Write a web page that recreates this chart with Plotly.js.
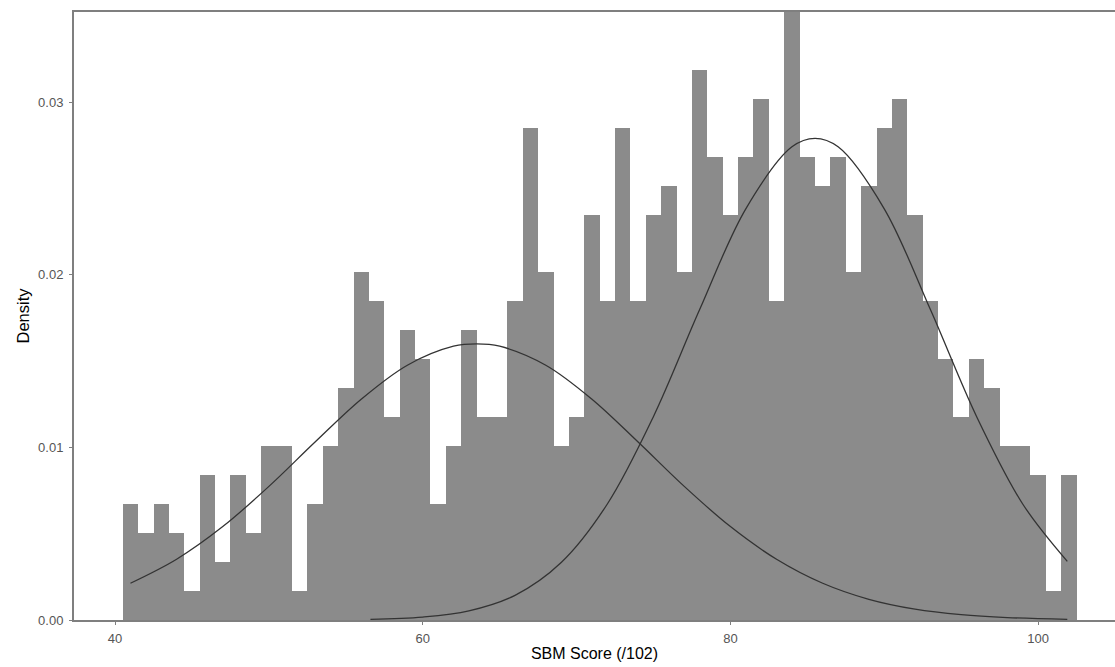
<!DOCTYPE html>
<html>
<head>
<meta charset="utf-8">
<script src="https://cdn.plot.ly/plotly-3.0.1.min.js"></script>
<style>html,body{margin:0;padding:0;background:#fff;}#chart{width:1115px;height:667px;}</style>
</head>
<body>
<div id="chart"></div>
<script>
// Histogram bins (centre of each 1-point bin) and counts
const binCenters = [41,42,43,44,45,46,47,48,49,50,51,52,53,54,55,56,57,58,59,60,61,62,63,64,65,66,67,68,69,70,71,72,73,74,75,76,77,78,79,80,81,82,83,84,85,86,87,88,89,90,91,92,93,94,95,96,97,98,99,100,101,102];
const binCounts = [4,3,4,3,1,5,2,5,3,6,6,1,4,6,8,12,11,7,10,9,4,6,10,7,7,11,17,12,6,7,14,11,17,11,14,15,12,19,16,14,16,18,11,21,16,15,16,12,15,17,18,14,11,9,7,9,8,6,6,5,1,5];
const totalCount = binCounts.reduce((a, b) => a + b, 0);
const binDensity = binCounts.map(c => c / totalCount);

// Left component curve
const curve1X = [41,44,47,50,53,56,59,62,63.5,65,68,71,74,77,80,83,86,89,92,95,98,101.9];
const curve1Y = [0.00213,0.00352,0.00541,0.00774,0.01031,0.01279,0.01476,0.01586,0.0160,0.01586,0.01476,0.01279,0.01031,0.00774,0.00541,0.00352,0.00213,0.00120,0.00063,0.00031,0.00014,0.00004];

// Right component curve
const curve2X = [56.6,60,63,66,69,72,75,78,81,84,85.5,87,90,93,96,99,101.9];
const curve2Y = [0.00004,0.00017,0.00053,0.00143,0.00333,0.00672,0.01179,0.01798,0.02382,0.02741,0.0279,0.02741,0.02382,0.01798,0.01179,0.00672,0.0034];

const xTicks = [40,60,80,100];
const yTicks = [0,0.01,0.02,0.03];
const yTickText = ['0.00','0.01','0.02','0.03'];

const traces = [
  {type:'bar', x:binCenters, y:binDensity, width:1, marker:{color:'#8b8b8b', line:{width:0}}, hoverinfo:'x+y'},
  {type:'scatter', mode:'lines', x:curve1X, y:curve1Y, line:{color:'#333333', width:1.3, shape:'spline'}},
  {type:'scatter', mode:'lines', x:curve2X, y:curve2Y, line:{color:'#333333', width:1.3, shape:'spline'}}
];

const layout = {
  width:1115, height:667,
  margin:{l:74, r:0, t:12, b:47},
  paper_bgcolor:'#ffffff', plot_bgcolor:'#ffffff',
  showlegend:false, bargap:0,
  font:{family:'"Liberation Sans", Arial, sans-serif', color:'#4d4d4d', size:13},
  xaxis:{
    range:[37.33,105.0], tickvals:xTicks, ticktext:xTicks.map(String),
    showgrid:false, zeroline:false, showline:true, linecolor:'#7f7f7f', linewidth:2, mirror:true,
    ticks:'outside', ticklen:3, tickcolor:'#7f7f7f', tickwidth:1, ticklabelstandoff:2,
    tickfont:{size:13, color:'#555555'},
    title:{text:'SBM Score (/102)', font:{size:16, color:'#000000'}, standoff:3}
  },
  yaxis:{
    range:[0,0.03522], tickvals:yTicks, ticktext:yTickText,
    showgrid:false, zeroline:false, showline:true, linecolor:'#7f7f7f', linewidth:2,
    ticks:'outside', ticklen:3, tickcolor:'#7f7f7f', tickwidth:1, ticklabelstandoff:3,
    tickfont:{size:13, color:'#555555'},
    title:{text:'Density', font:{size:16.5, color:'#000000'}, standoff:4}
  }
};

Plotly.newPlot('chart', traces, layout, {displayModeBar:false, staticPlot:true});
</script>
</body>
</html>
